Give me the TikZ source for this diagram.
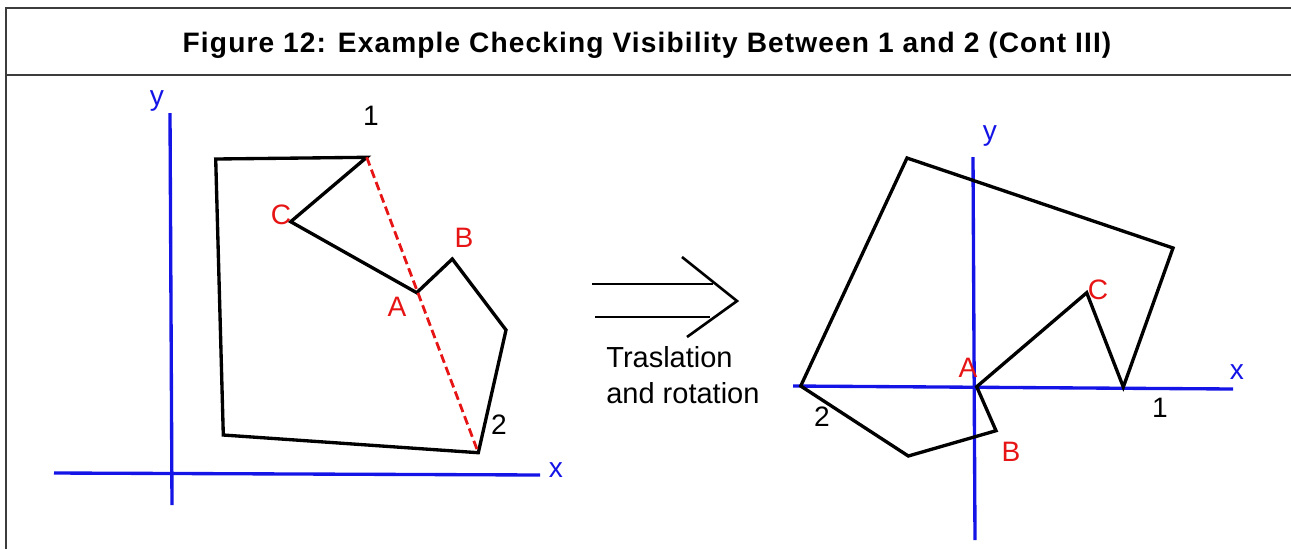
\documentclass[tikz,border=0pt]{standalone}
\usepackage{fontspec}
\setmainfont{Liberation Sans}
\usepackage{xcolor}
\usepackage{tikz}
\usetikzlibrary{positioning, arrows.meta}
\definecolor{axisblue}{HTML}{1414E6}
\definecolor{markred}{HTML}{E61414}
\definecolor{framegray}{HTML}{3C3C3C}

\begin{document}
\begin{tikzpicture}[x=0.02cm, y=-0.02cm,
    edge/.style={draw=black, line width=1.9pt, line join=miter},
    axis/.style={draw=axisblue, line width=1.9pt},
    sight/.style={draw=markred, line width=1.6pt, dash pattern=on 5pt off 2.5pt},
    lbl/.style={font=\fontsize{16}{19}\selectfont, inner sep=0pt},
    redlbl/.style={lbl, text=markred},
    bluelbl/.style={lbl, text=axisblue}]
  \useasboundingbox (0,0) rectangle (1291,549);
  % frame and title
  \coordinate (fTL) at (6,8);
  \coordinate (fTR) at (1291,8);
  \coordinate (fBL) at (6,549);
  \coordinate (sL) at (6,75);
  \coordinate (sR) at (1291,75);
  \draw[framegray, line width=1.1pt] (fBL) -- (fTL) -- (fTR);
  \draw[framegray, line width=1.1pt] (sL) -- (sR);
  \node[font=\fontsize{16}{19}\selectfont\bfseries\addfontfeature{LetterSpace=4}] (title) at (647,45)
    {Figure 12: Example Checking Visibility Between 1 and 2 (Cont III)};

  % left: original polygon
  \coordinate (yl0) at (172,505);
  \coordinate (yl1) at (170,113);
  \coordinate (xl0) at (54,473);
  \coordinate (xl1) at (540,475);
  \draw[axis] (yl0) -- (yl1);
  \draw[axis] (xl0) -- (xl1);
  \node[bluelbl] (ylab) at (157,101) {y};
  \node[bluelbl] (xlab) at (556,470) {x};

  \coordinate (p1) at (366.7,157.3);
  \coordinate (pTL) at (215.7,159);
  \coordinate (pBL) at (223.3,435);
  \coordinate (p2) at (478.3,452.7);
  \coordinate (pR) at (506,330);
  \coordinate (pB) at (452.3,259);
  \coordinate (pA) at (416.7,292.7);
  \coordinate (pC) at (290.7,221.7);
  \draw[edge] (p1) -- (pTL) -- (pBL) -- (p2) -- (pR) -- (pB) -- (pA) -- (pC) -- cycle;
  \draw[sight] (p1) -- (p2);

  \node[lbl] (n1) at (371,116) {1};
  \node[lbl] (n2) at (499,425) {2};
  \node[redlbl] (nA) at (397,307) {A};
  \node[redlbl] (nB) at (464,238) {B};
  \node[redlbl] (nC) at (281,215) {C};

  % middle: transformation arrow
  \coordinate (a0) at (592,284);
  \coordinate (a1) at (713,284);
  \coordinate (b0) at (595,317);
  \coordinate (b1) at (710,317);
  \coordinate (h0) at (682,257);
  \coordinate (tip) at (737,301);
  \coordinate (h1) at (687,337);
  \draw[line width=1.5pt] (a0) -- (a1);
  \draw[line width=1.5pt] (b0) -- (b1);
  \draw[line width=1.5pt] (h0) -- (tip) -- (h1);
  \node[lbl, anchor=west, align=left, font=\fontsize{16.5}{20.5}\selectfont] (move) at (606,375)
    {Traslation\\and rotation};

  % right: translated and rotated polygon
  \coordinate (yr0) at (975,540);
  \coordinate (yr1) at (973,157);
  \coordinate (xr0) at (793,386);
  \coordinate (xr1) at (1233,389);
  \draw[axis] (yr0) -- (yr1);
  \draw[axis] (xr0) -- (xr1);
  \node[bluelbl] (yrlab) at (990,136) {y};
  \node[bluelbl] (xrlab) at (1237,372) {x};

  \coordinate (q2) at (800.7,386);
  \coordinate (qT) at (907,158);
  \coordinate (qR) at (1173,248);
  \coordinate (q1) at (1123.3,387);
  \coordinate (qC) at (1086.7,292.7);
  \coordinate (qA) at (976.7,386.7);
  \coordinate (qB) at (996,430.7);
  \coordinate (qBot) at (908.3,456);
  \draw[edge] (q2) -- (qT) -- (qR) -- (q1) -- (qC) -- (qA) -- (qB) -- (qBot) -- cycle;

  \node[lbl] (m1) at (1160,408) {1};
  \node[lbl] (m2) at (822,417) {2};
  \node[redlbl] (mA) at (968,368) {A};
  \node[redlbl] (mB) at (1011,452) {B};
  \node[redlbl] (mC) at (1098,290) {C};
\end{tikzpicture}
\end{document}
